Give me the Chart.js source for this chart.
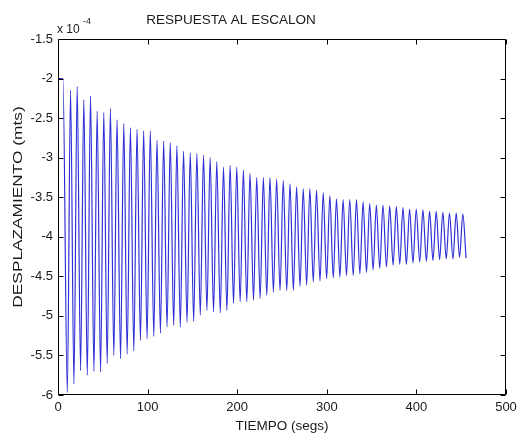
<!DOCTYPE html>
<html><head><meta charset="utf-8">
<script src="https://cdn.jsdelivr.net/npm/chart.js@4/dist/chart.umd.min.js"></script>
<style>html,body{margin:0;padding:0;background:#fff;}#wrap{width:528px;height:437px;}</style>
</head><body><div id="wrap"><canvas id="c" width="528" height="437"></canvas></div>
<script>
// Values of displacement are in units of 10^-4 m (as the axis exponent says)
const titleText = "RESPUESTA AL ESCALON";
const xTitle = "TIEMPO (segs)";
const yTitle = "DESPLAZAMIENTO (mts)";
const exponentBase = "x 10";
const exponentPower = "-4";
const xTickValues = [0, 100, 200, 300, 400, 500];
const yTickValues = [-6, -5.5, -5, -4.5, -4, -3.5, -3, -2.5, -2, -1.5];

const startTimes = [0, 5.5];
const startValues = [-2.0, -2.0];

const troughTimes = [10.4, 17.8, 25.2, 32.7, 40.1, 47.5, 54.9, 62.3, 69.8, 77.2, 84.6, 92.0, 99.4, 106.9, 114.3, 121.7, 129.1, 136.5, 144.0, 151.4,
  158.8, 166.2, 173.6, 181.1, 188.5, 195.9, 203.3, 210.7, 218.2, 225.6, 233.0, 240.4, 247.8, 255.3, 262.7, 270.1, 277.5, 284.9, 292.4, 299.8, 307.2,
  314.6, 322.0, 329.5, 336.9, 344.3, 351.7, 359.1, 366.6, 374.0, 381.4, 388.8, 396.2, 403.7, 411.1, 418.5, 425.9, 433.3, 440.8, 448.2, 455.4];
const troughValues = [-5.97, -5.86, -5.69, -5.75, -5.70, -5.71, -5.60, -5.50, -5.54, -5.48, -5.44, -5.31, -5.29, -5.26, -5.22, -5.14, -5.12, -5.14, -5.08, -5.07,
  -4.99, -4.93, -4.95, -4.96, -4.93, -4.84, -4.82, -4.82, -4.80, -4.78, -4.74, -4.70, -4.68, -4.68, -4.68, -4.63, -4.61, -4.57, -4.56, -4.53, -4.52,
  -4.51, -4.49, -4.49, -4.47, -4.45, -4.42, -4.40, -4.38, -4.36, -4.35, -4.35, -4.33, -4.32, -4.31, -4.30, -4.29, -4.28, -4.28, -4.26, -4.27];

const peakTimes = [14.0, 21.4, 28.8, 36.3, 43.7, 51.1, 58.5, 65.9, 73.4, 80.8, 88.2, 95.6, 103.0, 110.5, 117.9, 125.3, 132.7, 140.1, 147.6,
  155.0, 162.4, 169.8, 177.2, 184.7, 192.1, 199.5, 206.9, 214.3, 221.8, 229.2, 236.6, 244.0, 251.4, 258.9, 266.3, 273.7, 281.1, 288.5, 296.0, 303.4,
  310.8, 318.2, 325.6, 333.1, 340.5, 347.9, 355.3, 362.7, 370.2, 377.6, 385.0, 392.4, 399.8, 407.3, 414.7, 422.1, 429.5, 436.9, 444.4, 451.8];
const peakValues = [-2.15, -2.10, -2.27, -2.22, -2.41, -2.43, -2.38, -2.52, -2.57, -2.62, -2.64, -2.66, -2.66, -2.78, -2.79, -2.81, -2.85, -2.92, -2.94,
  -2.95, -2.97, -3.00, -3.05, -3.12, -3.10, -3.12, -3.16, -3.20, -3.25, -3.25, -3.25, -3.27, -3.29, -3.33, -3.37, -3.39, -3.39, -3.41, -3.44, -3.48,
  -3.52, -3.53, -3.53, -3.53, -3.56, -3.58, -3.60, -3.60, -3.61, -3.62, -3.63, -3.65, -3.65, -3.66, -3.68, -3.68, -3.69, -3.70, -3.70, -3.71];

const points = [];
startTimes.forEach((t, i) => points.push({x: t, y: startValues[i]}));
troughTimes.forEach((t, i) => {
  points.push({x: t, y: troughValues[i]});
  if (i < peakTimes.length) points.push({x: peakTimes[i], y: peakValues[i]});
});

const FONT = "'Liberation Sans', Arial, sans-serif";
const TXT = '#1a1a1a';

const framePlugin = {
  id: 'frame',
  afterDraw(chart) {
    const {ctx, chartArea: a, scales: {x, y}} = chart;
    ctx.save();
    ctx.strokeStyle = '#000';
    ctx.lineWidth = 1;
    ctx.beginPath();
    const L = Math.round(a.left) + 0.5, R = Math.round(a.right) - 0.5;
    const T = Math.round(a.top) + 0.5, B = Math.round(a.bottom) - 0.5;
    ctx.rect(L, T, R - L, B - T);
    xTickValues.forEach(v => {
      const px = Math.round(x.getPixelForValue(v)) + 0.5;
      ctx.moveTo(px, B); ctx.lineTo(px, B - 5);
      ctx.moveTo(px, T); ctx.lineTo(px, T + 5);
    });
    yTickValues.forEach(v => {
      const py = Math.round(y.getPixelForValue(v)) + 0.5;
      ctx.moveTo(L, py); ctx.lineTo(L + 5, py);
      ctx.moveTo(R, py); ctx.lineTo(R - 5, py);
    });
    ctx.stroke();
    ctx.fillStyle = TXT;
    ctx.textBaseline = 'alphabetic';
    ctx.textAlign = 'center';
    ctx.font = "13.5px " + FONT;
    ctx.fillText(titleText, 231, 24);
    ctx.textAlign = 'left';
    ctx.font = "12px " + FONT;
    ctx.fillText(exponentBase, 57, 33);
    ctx.font = "9px " + FONT;
    ctx.fillText(exponentPower, 83, 24);
    // vertical axis title
    ctx.save();
    ctx.translate(18, 207);
    ctx.rotate(-Math.PI / 2);
    ctx.scale(1.28, 1);
    ctx.textAlign = 'center';
    ctx.textBaseline = 'middle';
    ctx.font = "13.5px " + FONT;
    ctx.fillText(yTitle, 0, 0);
    ctx.restore();
    ctx.restore();
  }
};

new Chart(document.getElementById('c'), {
  type: 'line',
  data: {
    datasets: [{
      data: points,
      borderColor: '#3030d8',
      borderWidth: 1.2,
      pointRadius: 0,
      cubicInterpolationMode: 'monotone',
      fill: false
    }]
  },
  options: {
    responsive: false,
    animation: false,
    devicePixelRatio: 1,
    parsing: false,
    layout: {padding: {top: 39, right: 22, left: 0, bottom: 0}},
    plugins: {legend: {display: false}, tooltip: {enabled: false}, title: {display: false}},
    scales: {
      x: {
        type: 'linear', min: 0, max: 500,
        afterBuildTicks: s => { s.ticks = xTickValues.map(v => ({value: v})); },
        afterFit: s => { s.height = 42; },
        grid: {display: false, drawTicks: false},
        border: {display: false},
        ticks: {font: {family: FONT, size: 13}, color: TXT, padding: 5, maxRotation: 0, autoSkip: false, callback: v => String(v)},
        title: {display: true, text: xTitle, font: {family: FONT, size: 13.5}, color: TXT, padding: {top: 0, bottom: 3}}
      },
      y: {
        type: 'linear', min: -6, max: -1.5,
        afterBuildTicks: s => { s.ticks = yTickValues.map(v => ({value: v})); },
        afterFit: s => { s.width = 58; },
        grid: {display: false, drawTicks: false},
        border: {display: false},
        ticks: {font: {family: FONT, size: 13}, color: TXT, padding: 5, autoSkip: false, callback: v => String(v)},
        title: {display: false}
      }
    }
  },
  plugins: [framePlugin]
});
</script>
</body></html>
